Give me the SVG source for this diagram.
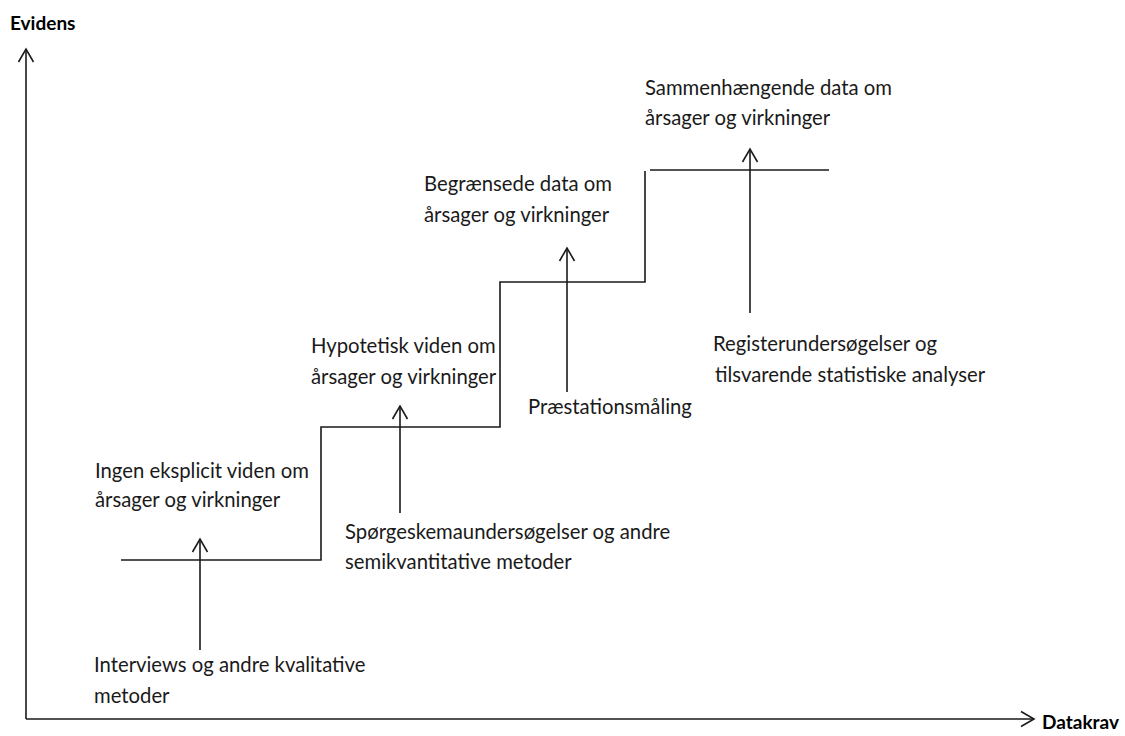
<svg xmlns="http://www.w3.org/2000/svg" width="1125" height="736" viewBox="0 0 1125 736">
  <style>
    text { font-family: Lato, "Open Sans", "Liberation Sans", sans-serif; font-size: 20.3px; fill: #1a1a1a; }
    .b { font-weight: bold; font-size: 19px; fill: #000; }
    .ln { fill: none; stroke: #1a1a1a; stroke-width: 1.6; }
    .ar { fill: none; stroke: #1a1a1a; stroke-width: 1.6; marker-end: url(#open); }
  </style>
  <defs>
    <marker id="open" markerUnits="userSpaceOnUse" markerWidth="16" markerHeight="18" viewBox="0 0 16 18" refX="14" refY="9" orient="auto">
      <path d="M1,1.5 L14,9 L1,16.5" fill="none" stroke="#1a1a1a" stroke-width="1.6"/>
    </marker>
  </defs>
  <rect width="1125" height="736" fill="#fff"/>

  <g id="axes">
    <path class="ar" d="M26,719 L26,49"/>
    <path class="ar" d="M26,719 L1034,719"/>
    <text id="evidens" class="b" x="10" y="30">Evidens</text>
    <text id="datakrav" class="b" x="1042" y="729">Datakrav</text>
  </g>

  <g id="staircase">
    <path class="ln" d="M121,560 H321 V427 H500 V282 H645 V171"/>
    <path class="ln" d="M650,170 H829"/>
  </g>

  <g id="connectors">
    <path class="ar" d="M200,650 V539"/>
    <path class="ar" d="M400,513 V406"/>
    <path class="ar" d="M567,392 V248"/>
    <path class="ar" d="M750,313 V149"/>
  </g>

  <g id="level-sammenhaengende">
    <text x="645" y="95">Sammenhængende data om</text>
    <text x="645" y="125">årsager og virkninger</text>
  </g>
  <g id="level-begraensede">
    <text x="424" y="191">Begrænsede data om</text>
    <text x="424" y="222">årsager og virkninger</text>
  </g>
  <g id="level-hypotetisk">
    <text x="311" y="353">Hypotetisk viden om</text>
    <text x="311" y="384">årsager og virkninger</text>
  </g>
  <g id="level-ingen">
    <text x="95" y="478">Ingen eksplicit viden om</text>
    <text x="95" y="507">årsager og virkninger</text>
  </g>

  <g id="method-praestation">
    <text x="528" y="414">Præstationsmåling</text>
  </g>
  <g id="method-register">
    <text x="713" y="351">Registerundersøgelser og</text>
    <text x="715" y="382">tilsvarende statistiske analyser</text>
  </g>
  <g id="method-spoergeskema">
    <text x="345" y="539">Spørgeskemaundersøgelser og andre</text>
    <text x="345" y="569">semikvantitative metoder</text>
  </g>
  <g id="method-interviews">
    <text x="94" y="672">Interviews og andre kvalitative</text>
    <text x="94" y="703">metoder</text>
  </g>
</svg>
